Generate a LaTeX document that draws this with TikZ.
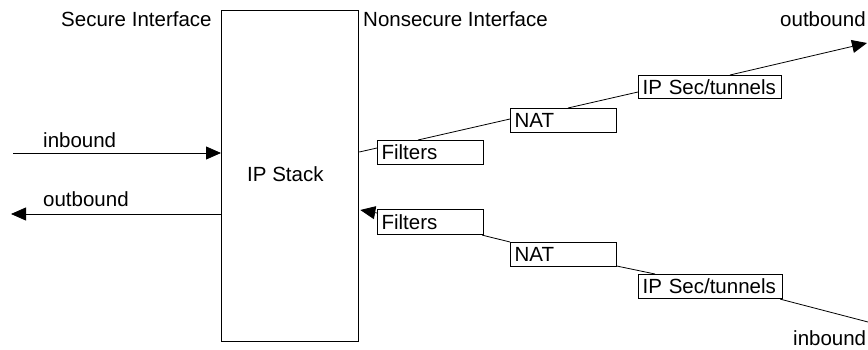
\documentclass[tikz,border=0pt]{standalone}
\usepackage{fontspec}
\setmainfont{Liberation Sans}
\usetikzlibrary{arrows.meta,calc}
\begin{document}
\begin{tikzpicture}[x=1pt,y=-1pt,
  every node/.style={font=\fontsize{20.5}{23}\selectfont, inner sep=0pt},
  lbl/.style={anchor=base west},
  tag/.style={draw, line width=1.1pt, anchor=north west, align=left,
              inner xsep=4pt, inner ysep=0pt, text width=#1},
  wire/.style={line width=0.8pt},
  arr/.style={wire, -{Triangle[length=15pt,width=13pt]}}]
\useasboundingbox (0,0) rectangle (868,350);

% the IP stack
\node[draw, line width=1.3pt, minimum width=137pt, minimum height=331pt,
      anchor=north west] (stack) at (221,10) {};
\node[lbl] (stackLbl) at (247,182) {IP Stack};

% interface captions
\node[lbl] (secLbl) at (61,27) {Secure Interface};
\node[lbl] (nonLbl) at (363,27) {Nonsecure Interface};

% outgoing chain
\node[tag=98pt, minimum height=24pt] (filtA) at (377,140) {Filters};
\node[tag=98pt, minimum height=24pt] (natA) at (510,108) {NAT};
\node[tag=135pt, minimum height=23pt] (ipA) at (638,75) {IP Sec/tunnels};

% incoming chain
\node[tag=98pt, minimum height=25pt] (filtB) at (377,209) {Filters};
\node[tag=98pt, minimum height=24pt] (natB) at (510,242) {NAT};
\node[tag=136pt, minimum height=24pt] (ipB) at (638,274) {IP Sec/tunnels};

% free ends of the flows
\coordinate (inTail) at (13,153);
\coordinate (outTipL) at (11,214);
\coordinate (outTipR) at (867,43);
\coordinate (inEnd) at (868,322);

% secure side
\draw[arr] (inTail) -- ($(stack.north west)+(0,143)$);
\draw[arr] ($(stack.north west)+(0,204)$) -- (outTipL);
\node[lbl] (inLbl) at (43,148) {inbound};
\node[lbl] (outLbl) at (43,207) {outbound};

% nonsecure side, outbound
\draw[wire] ($(stack.north east)+(0,142)$) -- ($(filtA.north west)+(0,8)$);
\draw[wire] ($(filtA.north west)+(41,0)$) -- ($(natA.north west)+(0,11)$);
\draw[wire] ($(natA.north west)+(58,0)$) -- ($(ipA.north west)+(0,17)$);
\draw[arr] ($(ipA.north west)+(92,0)$) -- (outTipR);
\node[lbl] (outLblR) at (780,27) {outbound};

% nonsecure side, inbound
\draw[arr] ($(filtB.north west)+(0,4)$) -- ($(stack.north east)+(1,200)$);
\draw[wire] ($(filtB.south east)+(-2,0)$) -- (natB.north west);
\draw[wire] ($(natB.south east)+(0,-1)$) -- ($(ipB.north west)+(17,0)$);
\draw[wire] ($(ipB.south east)+(-3,0)$) -- (inEnd);
\node[lbl] (inLblR) at (793,345) {inbound};
\end{tikzpicture}
\end{document}
